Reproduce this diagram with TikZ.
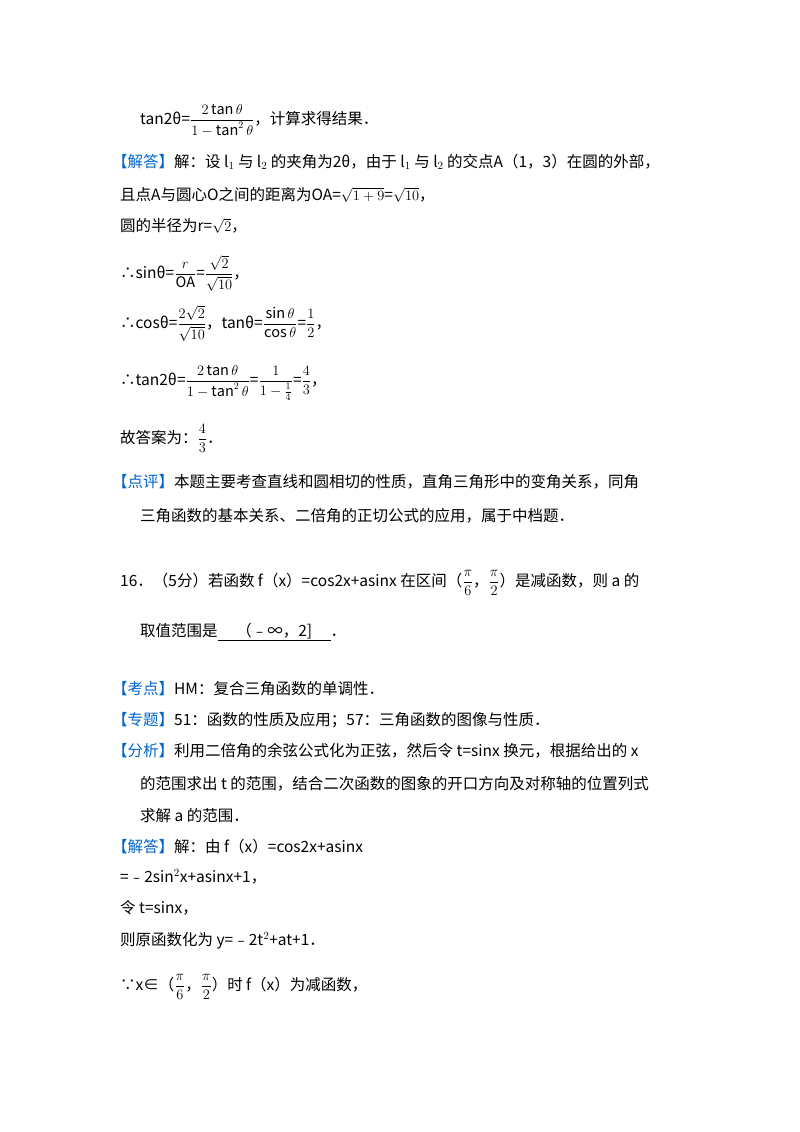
\documentclass[tikz,border=0pt]{standalone}
\usepackage{amsmath}
\usepackage{fontspec}
\setmainfont{Noto Sans CJK SC}
\definecolor{lbl}{RGB}{0,102,204}
\newcommand{\fr}[2]{{\fontsize{14.5}{16}\selectfont$\dfrac{#1}{#2}$}}
\newcommand{\tg}[1]{{\color{lbl}【#1】}}
\begin{document}
\begin{tikzpicture}[x=1pt,y=1pt,every node/.style={anchor=base west,inner sep=0pt,font=\fontsize{15.5}{18}\selectfont}]
\useasboundingbox (0,0) rectangle (800,-1132);
\fill[white] (0,0) rectangle (800,-1132);
\node (l1) at (140,-124) {tan2θ=\fr{2\tan\theta}{1-\tan^2\theta}，计算求得结果．};
\node (l2) at (112,-167) {\tg{解答}解：设 l$_1$ 与 l$_2$ 的夹角为2θ，由于 l$_1$ 与 l$_2$ 的交点A（1，3）在圆的外部，};
\node (l3) at (120,-200) {且点A与圆心O之间的距离为OA=$\sqrt{1+9}$=$\sqrt{10}$，};
\node (l4) at (120,-231) {圆的半径为r=$\sqrt{2}$，};
\node (l5) at (120,-278) {∴sinθ=\fr{r}{\mathrm{OA}}=\fr{\sqrt2}{\sqrt{10}}，};
\node (l6) at (120,-328) {∴cosθ=\fr{2\sqrt2}{\sqrt{10}}，tanθ=\fr{\sin\theta}{\cos\theta}=\fr{1}{2}，};
\node (l7) at (120,-385) {∴tan2θ=\fr{2\tan\theta}{1-\tan^2\theta}=\fr{1}{1-\frac{1}{4}}=\fr{4}{3}，};
\node (l8) at (120,-443) {故答案为：\fr{4}{3}．};
\node (l9) at (112,-487) {\tg{点评}本题主要考查直线和圆相切的性质，直角三角形中的变角关系，同角};
\node (l10) at (140,-521) {三角函数的基本关系、二倍角的正切公式的应用，属于中档题．};
\node (l11) at (120,-586) {16．（5分）若函数 f（x）=cos2x+asinx 在区间（\fr{\pi}{6}，\fr{\pi}{2}）是减函数，则 a 的};
\node (l12) at (140,-636) {取值范围是\underline{\hspace{1.2em}（﹣∞，2]\hspace{1.2em}}．};
\node (l13) at (112,-694) {\tg{考点}HM：复合三角函数的单调性．};
\node (l14) at (112,-725) {\tg{专题}51：函数的性质及应用；57：三角函数的图像与性质．};
\node (l15) at (112,-756) {\tg{分析}利用二倍角的余弦公式化为正弦，然后令 t=sinx 换元，根据给出的 x};
\node (l16) at (140,-789) {的范围求出 t 的范围，结合二次函数的图象的开口方向及对称轴的位置列式};
\node (l17) at (140,-821) {求解 a 的范围．};
\node (l18) at (112,-852) {\tg{解答}解：由 f（x）=cos2x+asinx};
\node (l19) at (120,-882) {=﹣2sin$^2$x+asinx+1，};
\node (l20) at (120,-913) {令 t=sinx，};
\node (l21) at (120,-945) {则原函数化为 y=﹣2t$^2$+at+1．};
\node (l22) at (120,-990) {∵x∈（\fr{\pi}{6}，\fr{\pi}{2}）时 f（x）为减函数，};
\end{tikzpicture}
\end{document}
